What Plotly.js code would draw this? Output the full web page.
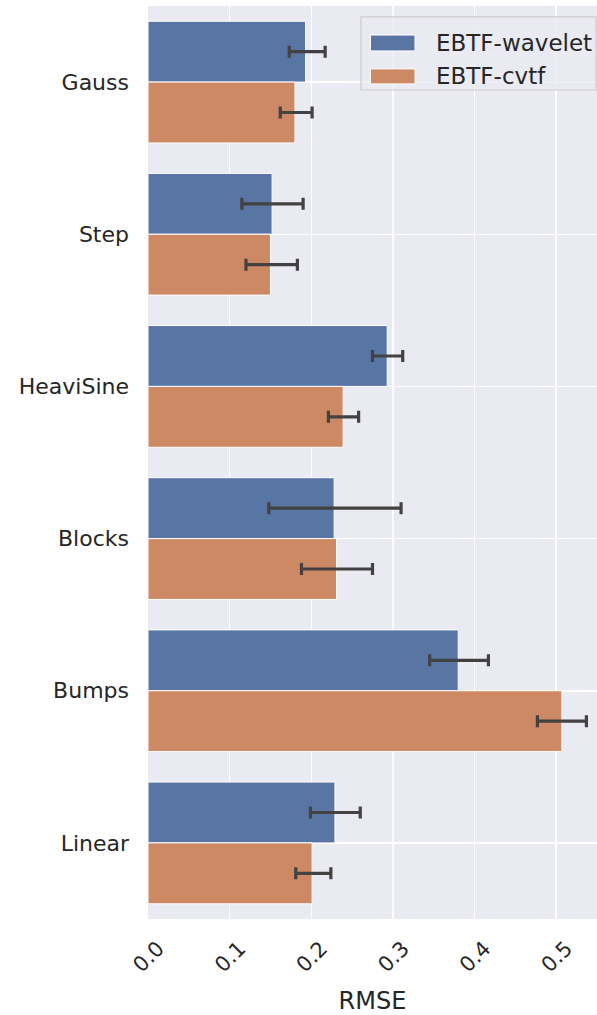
<!DOCTYPE html>
<html>
<head>
<meta charset="utf-8">
<script src="https://cdn.plot.ly/plotly-3.0.1.min.js"></script>
<style>html,body{margin:0;padding:0;background:#fff;}#chart{width:597px;height:1015px;}</style>
</head>
<body>
<div id="chart"></div>
<script>
const categories = ["Gauss", "Step", "HeaviSine", "Blocks", "Bumps", "Linear"];
const seriesNames = ["EBTF-wavelet", "EBTF-cvtf"];
const waveletMean = [0.193, 0.152, 0.293, 0.228, 0.380, 0.229];
const waveletLow  = [0.173, 0.115, 0.275, 0.148, 0.345, 0.199];
const waveletHigh = [0.217, 0.190, 0.312, 0.310, 0.417, 0.260];
const cvtfMean = [0.180, 0.150, 0.239, 0.231, 0.507, 0.201];
const cvtfLow  = [0.162, 0.120, 0.221, 0.188, 0.477, 0.181];
const cvtfHigh = [0.201, 0.183, 0.258, 0.275, 0.537, 0.224];
const xTicks = [0, 0.1, 0.2, 0.3, 0.4, 0.5];
const xTickLabels = ["0.0", "0.1", "0.2", "0.3", "0.4", "0.5"];

const colors = ["#5975a4", "#cc8963"];
const errColor = "#424242";
const font = "DejaVu Sans, sans-serif";

function mkTrace(name, mean, lo, hi, color) {
  return {
    type: "bar", orientation: "h", name: name,
    y: categories, x: mean,
    marker: {color: color, line: {color: "#ffffff", width: 1}},
    error_x: {type: "data", symmetric: false,
      array: hi.map((h, i) => h - mean[i]),
      arrayminus: lo.map((l, i) => mean[i] - l),
      color: errColor, thickness: 3.2, width: 6},
    showlegend: false, hoverinfo: "skip"
  };
}
const data = [
  mkTrace(seriesNames[0], waveletMean, waveletLow, waveletHigh, colors[0]),
  mkTrace(seriesNames[1], cvtfMean, cvtfLow, cvtfHigh, colors[1])
];

// custom legend geometry in paper coords
const L = {x0: 0.4744, x1: 0.9978, y0: 0.908, y1: 0.988};
const shapes = [
  {type: "rect", xref: "paper", yref: "paper", x0: L.x0, x1: L.x1, y0: L.y0, y1: L.y1,
   fillcolor: "rgba(234,234,242,0.8)", line: {color: "#cccccc", width: 1.2}, layer: "above"},
  {type: "rect", xref: "paper", yref: "paper", x0: 0.4955, x1: 0.5947, y0: 0.9682, y1: 0.9508,
   fillcolor: colors[0], line: {color: "#ffffff", width: 1}, layer: "above"},
  {type: "rect", xref: "paper", yref: "paper", x0: 0.4955, x1: 0.5947, y0: 0.9311, y1: 0.9147,
   fillcolor: colors[1], line: {color: "#ffffff", width: 1}, layer: "above"}
];
const annotations = seriesNames.map((n, i) => ({
  xref: "paper", yref: "paper", x: 0.636, y: i === 0 ? 0.9595 : 0.9235,
  xanchor: "left", yanchor: "middle", text: n, showarrow: false,
  font: {family: font, size: 23, color: "#262626"}
}));

const layout = {
  width: 597, height: 1015,
  margin: {l: 148, r: 0, t: 6, b: 96},
  paper_bgcolor: "#ffffff", plot_bgcolor: "#eaeaf2",
  barmode: "group", bargap: 0.2, bargroupgap: 0,
  font: {family: font, size: 22, color: "#262626"},
  xaxis: {
    range: [0, 0.55], tickvals: xTicks, ticktext: xTickLabels,
    tickangle: -45, gridcolor: "#ffffff", gridwidth: 1.5, zeroline: false,
    showline: false, ticks: "", tickfont: {size: 21, color: "#262626"},
    ticklabelshift: 10, ticklabelstandoff: 12,
    title: {text: "RMSE", font: {size: 24, color: "#262626"}, standoff: 18}
  },
  yaxis: {
    type: "category", categoryorder: "array", categoryarray: categories,
    autorange: "reversed", showgrid: true, gridcolor: "#ffffff", gridwidth: 1.5,
    ticks: "", ticklen: 0, tickfont: {size: 22, color: "#262626"},
    ticklabelstandoff: 18,
    zeroline: false, showline: false
  },
  shapes: shapes, annotations: annotations, showlegend: false
};
Plotly.newPlot("chart", data, layout, {displayModeBar: false, staticPlot: true});
</script>
</body>
</html>
